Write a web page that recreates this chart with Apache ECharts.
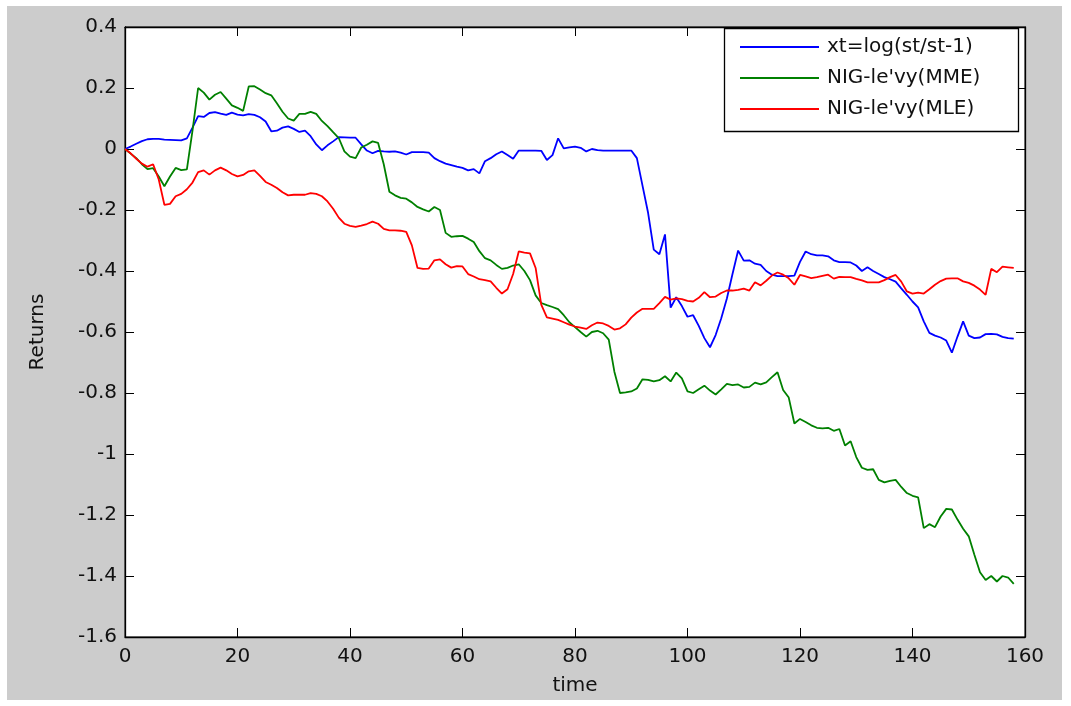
<!DOCTYPE html>
<html>
<head>
<meta charset="utf-8">
<script src="https://cdn.jsdelivr.net/npm/echarts@6/dist/echarts.min.js"></script>
<style>
  html, body { margin: 0; padding: 0; background: #ffffff; }
  #frame { position: absolute; left: 7px; top: 6px; width: 1055px; height: 694px; background: #cccccc; }
  #chart { position: absolute; left: 0; top: 0; width: 1071px; height: 706px; }
</style>
</head>
<body>
<div id="frame"></div>
<div id="chart"></div>
<script>
// Series names shown in the legend
const seriesNames = ["xt=log(st/st-1)", "NIG-le'vy(MME)", "NIG-le'vy(MLE)"];
const seriesColors = ['#0000ff', '#008000', '#ff0000'];

// Observed log returns, t = 0..158
const xtLog = [
  0, 0.008, 0.017, 0.026, 0.032, 0.033, 0.033, 0.031, 0.030, 0.029,
  0.028, 0.035, 0.070, 0.108, 0.105, 0.118, 0.121, 0.116, 0.112, 0.119,
  0.113, 0.110, 0.114, 0.112, 0.104, 0.090, 0.058, 0.060, 0.070, 0.074,
  0.066, 0.056, 0.060, 0.042, 0.015, -0.004, 0.012, 0.025, 0.039, 0.038,
  0.037, 0.037, 0.015, -0.005, -0.014, -0.006, -0.008, -0.009, -0.008, -0.012,
  -0.018, -0.010, -0.010, -0.010, -0.012, -0.030, -0.040, -0.048, -0.053, -0.058,
  -0.062, -0.070, -0.066, -0.080, -0.040, -0.030, -0.017, -0.008, -0.020, -0.032,
  -0.005, -0.005, -0.005, -0.005, -0.006, -0.036, -0.020, 0.035, 0.002, 0.005,
  0.008, 0.004, -0.008, 0.000, -0.004, -0.005, -0.005, -0.005, -0.005, -0.005,
  -0.005, -0.030, -0.120, -0.210, -0.330, -0.345, -0.280, -0.520, -0.486, -0.515,
  -0.550, -0.545, -0.580, -0.620, -0.650, -0.610, -0.555, -0.490, -0.410, -0.333,
  -0.366, -0.365, -0.376, -0.380, -0.400, -0.412, -0.417, -0.417, -0.417, -0.415,
  -0.370, -0.336, -0.345, -0.349, -0.349, -0.352, -0.365, -0.371, -0.371, -0.372,
  -0.382, -0.400, -0.388, -0.400, -0.410, -0.420, -0.427, -0.435, -0.457, -0.478,
  -0.500, -0.519, -0.565, -0.603, -0.612, -0.618, -0.628, -0.668, -0.615, -0.565,
  -0.612, -0.620, -0.618, -0.607, -0.606, -0.608, -0.616, -0.620, -0.622
];

// NIG-Levy path, moment-matching estimates
const nigMME = [
  0, -0.015, -0.030, -0.050, -0.066, -0.063, -0.090, -0.122, -0.090, -0.062,
  -0.069, -0.067, 0.060, 0.200, 0.185, 0.162, 0.178, 0.187, 0.165, 0.143,
  0.135, 0.125, 0.205, 0.206, 0.195, 0.183, 0.176, 0.150, 0.122, 0.100,
  0.093, 0.115, 0.115, 0.122, 0.115, 0.092, 0.075, 0.055, 0.036, -0.008,
  -0.025, -0.030, 0.005, 0.014, 0.025, 0.020, -0.050, -0.140, -0.152, -0.160,
  -0.163, -0.175, -0.190, -0.198, -0.205, -0.190, -0.200, -0.275, -0.288, -0.286,
  -0.285, -0.294, -0.305, -0.335, -0.358, -0.365, -0.380, -0.393, -0.390, -0.382,
  -0.378, -0.400, -0.430, -0.480, -0.505, -0.512, -0.518, -0.525, -0.545, -0.568,
  -0.584, -0.600, -0.615, -0.600, -0.596, -0.604, -0.625, -0.730, -0.800, -0.798,
  -0.795, -0.785, -0.755, -0.757, -0.762, -0.758, -0.745, -0.762, -0.733, -0.752,
  -0.795, -0.800, -0.788, -0.776, -0.792, -0.805, -0.788, -0.770, -0.774, -0.772,
  -0.782, -0.780, -0.766, -0.772, -0.765, -0.748, -0.732, -0.790, -0.815, -0.900,
  -0.885, -0.895, -0.906, -0.914, -0.916, -0.914, -0.924, -0.918, -0.972, -0.958,
  -1.010, -1.045, -1.052, -1.050, -1.085, -1.093, -1.088, -1.085, -1.108, -1.128,
  -1.137, -1.142, -1.243, -1.230, -1.240, -1.205, -1.180, -1.182, -1.215, -1.245,
  -1.270, -1.330, -1.388, -1.413, -1.400, -1.418, -1.400, -1.405, -1.426
];

// NIG-Levy path, maximum-likelihood estimates
const nigMLE = [
  0, -0.014, -0.032, -0.048, -0.058, -0.050, -0.100, -0.183, -0.180, -0.155,
  -0.147, -0.132, -0.110, -0.076, -0.070, -0.084, -0.070, -0.061, -0.070, -0.082,
  -0.090, -0.085, -0.073, -0.070, -0.088, -0.108, -0.117, -0.128, -0.142, -0.152,
  -0.150, -0.150, -0.150, -0.145, -0.147, -0.155, -0.172, -0.196, -0.225, -0.245,
  -0.252, -0.255, -0.251, -0.246, -0.238, -0.245, -0.262, -0.267, -0.267, -0.268,
  -0.272, -0.316, -0.390, -0.393, -0.392, -0.365, -0.362, -0.378, -0.389, -0.384,
  -0.385, -0.410, -0.418, -0.427, -0.430, -0.434, -0.455, -0.474, -0.460, -0.410,
  -0.336, -0.340, -0.342, -0.390, -0.510, -0.552, -0.556, -0.560, -0.568, -0.576,
  -0.582, -0.586, -0.590, -0.578, -0.569, -0.572, -0.580, -0.592, -0.588, -0.575,
  -0.553, -0.536, -0.524, -0.524, -0.524, -0.505, -0.485, -0.494, -0.490, -0.492,
  -0.498, -0.500, -0.488, -0.469, -0.486, -0.484, -0.472, -0.464, -0.464, -0.462,
  -0.458, -0.464, -0.437, -0.447, -0.432, -0.415, -0.405, -0.412, -0.424, -0.445,
  -0.413, -0.418, -0.423, -0.420, -0.416, -0.412, -0.425, -0.419, -0.420, -0.420,
  -0.426, -0.431, -0.437, -0.437, -0.437, -0.430, -0.420, -0.413, -0.435, -0.467,
  -0.474, -0.471, -0.474, -0.460, -0.445, -0.433, -0.425, -0.424, -0.424, -0.434,
  -0.439, -0.448, -0.461, -0.478, -0.393, -0.404, -0.386, -0.388, -0.390
];

// Axis ranges and tick steps
const xRange = { min: 0, max: 160, step: 20 };
const yRange = { min: -1.6, max: 0.4, step: 0.2 };

const FONT = 'DejaVu Sans';
const TEXT = '#111111';
const AXIS = '#000000';

function pairs(values) {
  return values.map((v, t) => [t, v]);
}

function fmtY(v) {
  return String(Math.round(v * 10) / 10);
}

const tickStyle = { show: true, inside: true, length: 9, lineStyle: { color: AXIS, width: 1 } };
const lineStyle = { show: true, onZero: false, lineStyle: { color: AXIS, width: 1.3 } };
const labelStyle = { fontFamily: FONT, fontSize: 20, color: TEXT };

const chart = echarts.init(document.getElementById('chart'), null, { renderer: 'canvas' });

chart.setOption({
  backgroundColor: 'transparent',
  animation: false,
  grid: {
    left: 125, top: 27, right: 46, bottom: 69,
    show: true, backgroundColor: '#ffffff', borderColor: AXIS, borderWidth: 1,
    containLabel: false, outerBoundsMode: 'none'
  },
  xAxis: [
    {
      type: 'value', position: 'bottom',
      min: xRange.min, max: xRange.max, interval: xRange.step,
      axisLine: lineStyle, axisTick: tickStyle,
      axisLabel: Object.assign({ margin: 10 }, labelStyle),
      splitLine: { show: false },
      name: 'time', nameLocation: 'middle', nameGap: 39,
      nameTextStyle: labelStyle
    },
    {
      type: 'value', position: 'top',
      min: xRange.min, max: xRange.max, interval: xRange.step,
      axisLine: lineStyle, axisTick: tickStyle,
      axisLabel: { show: false }, splitLine: { show: false }
    }
  ],
  yAxis: [
    {
      type: 'value', position: 'left',
      min: yRange.min, max: yRange.max, interval: yRange.step,
      axisLine: lineStyle, axisTick: tickStyle,
      axisLabel: Object.assign({ margin: 8, formatter: fmtY }, labelStyle),
      splitLine: { show: false },
      name: 'Returns', nameLocation: 'middle', nameGap: 77, nameRotate: 90,
      nameTextStyle: labelStyle
    },
    {
      type: 'value', position: 'right',
      min: yRange.min, max: yRange.max, interval: yRange.step,
      axisLine: lineStyle, axisTick: tickStyle,
      axisLabel: { show: false }, splitLine: { show: false }
    }
  ],
  graphic: {
    elements: [
      {
        type: 'rect', z: 10,
        shape: { x: 724.5, y: 28.5, width: 294, height: 103 },
        style: { fill: '#ffffff', stroke: AXIS, lineWidth: 1.3 }
      }
    ]
  },
  legend: {
    z: 20,
    data: seriesNames,
    orient: 'vertical',
    left: 740, top: 36,
    padding: 0,
    itemGap: 9,
    itemWidth: 79,
    itemHeight: 2,
    icon: 'rect',
    selectedMode: false,
    textStyle: { fontFamily: FONT, fontSize: 20, color: TEXT, lineHeight: 22, padding: [0, 0, 0, 3] }
  },
  series: [
    { name: seriesNames[0], data: pairs(xtLog) },
    { name: seriesNames[1], data: pairs(nigMME) },
    { name: seriesNames[2], data: pairs(nigMLE) }
  ].map((s, i) => Object.assign({
    type: 'line',
    xAxisIndex: 0, yAxisIndex: 0,
    showSymbol: false, symbol: 'none',
    color: seriesColors[i],
    lineStyle: { color: seriesColors[i], width: 1.8 },
    itemStyle: { color: seriesColors[i] },
    silent: true
  }, s))
});
</script>
</body>
</html>
